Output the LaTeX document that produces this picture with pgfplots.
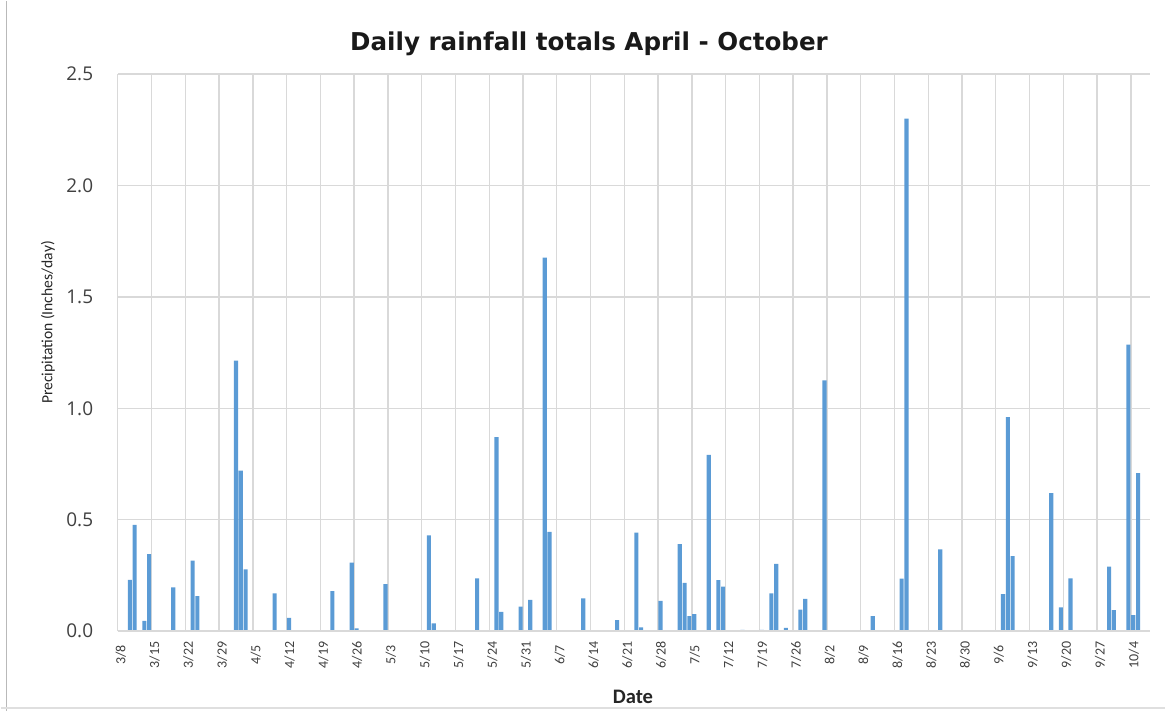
\documentclass[border=0pt]{standalone}
\usepackage{fontspec}
\setmainfont{Carlito}
\newfontfamily\opensans{Open Sans}
\newfontfamily\dejavu{DejaVu Sans}
\usepackage{pgfplots}
\usepackage{pgfplotstable}
\pgfplotsset{compat=1.18}
\definecolor{rainbar}{HTML}{5B9BD5}
\definecolor{gridgray}{HTML}{D9D9D9}
\definecolor{txtgray}{HTML}{404040}

% day after 3/8 (bar centred mid-day), inches/day
\pgfplotstableread{
day rain
2.5 0.230
3.5 0.477
5.5 0.046
6.5 0.346
11.5 0.196
12.5 0.005
15.5 0.316
16.5 0.157
24.5 1.214
25.5 0.720
26.5 0.277
27.5 0.005
32.5 0.170
35.5 0.060
44.5 0.180
48.5 0.307
49.5 0.012
51.5 0.005
52.5 0.005
55.5 0.211
64.5 0.430
65.5 0.035
74.5 0.237
78.5 0.871
79.5 0.087
83.5 0.110
85.5 0.140
88.5 1.676
89.5 0.445
90.5 0.005
96.5 0.147
103.5 0.050
107.5 0.442
108.5 0.017
112.5 0.136
113.5 0.005
116.5 0.391
117.5 0.217
118.5 0.067
119.5 0.076
122.5 0.791
124.5 0.229
125.5 0.200
128.5 0.004
129.5 0.006
132.5 0.005
133.5 0.006
135.5 0.170
136.5 0.302
138.5 0.015
141.5 0.097
142.5 0.145
146.5 1.125
156.5 0.067
162.5 0.236
163.5 2.300
170.5 0.367
183.5 0.166
184.5 0.960
185.5 0.337
193.5 0.619
195.5 0.107
197.5 0.237
199.5 0.004
200.5 0.004
205.5 0.289
206.5 0.094
209.5 1.286
210.5 0.072
211.5 0.709
212.5 0.005
}\raindata

\begin{document}
\begin{tikzpicture}
\path (0pt,0pt) rectangle (583pt,355.5pt);
\draw[gray!55, line width=0.8pt] (3pt,0pt) -- (3pt,355.5pt);
\draw[gray!25, line width=0.6pt] (0pt,1.5pt) -- (583pt,1.5pt);
\begin{axis}[
    at={(58.65pt,40pt)}, anchor=south west,
    scale only axis,
    width=516.7pt, height=278.85pt,
    ybar, bar width=0.85,
    xmin=0, xmax=214,
    ymin=0, ymax=2.5,
    enlargelimits=false,
    axis line style={draw=none},
    major tick length=0pt,
    xmajorgrids, ymajorgrids,
    grid style={gridgray, line width=0.7pt},
    xtick={0,7,...,210},
    xticklabels={},
    ytick={0,0.5,...,2.5},
    yticklabel style={xshift=-8.8pt, font=\opensans\fontsize{9.5}{11}\selectfont,
        text=txtgray,
        /pgf/number format/.cd, fixed, fixed zerofill, precision=1,
        assume math mode=true},
]
\addplot[fill=rainbar, draw=none] table[x=day, y=rain] {\raindata};
\draw[gridgray, line width=0.8pt] (axis cs:0,0) -- (axis cs:214,0);
\end{axis}
% weekly date labels (one every 7 days from 3/8), centred below the axis
\foreach \i/\m/\dd in {0/3/8,1/3/15,2/3/22,3/3/29,4/4/5,5/4/12,6/4/19,7/4/26,
    8/5/3,9/5/10,10/5/17,11/5/24,12/5/31,13/6/7,14/6/14,15/6/21,16/6/28,
    17/7/5,18/7/12,19/7/19,20/7/26,21/8/2,22/8/9,23/8/16,24/8/23,25/8/30,
    26/9/6,27/9/13,28/9/20,29/9/27,30/10/4}{
  \node[rotate=90, font=\fontsize{7}{8}\selectfont, text=txtgray]
      at ({58.65pt+16.9014pt*\i+1.5pt},28pt) {\m/\dd};
}
\node[anchor=base, font=\dejavu\bfseries\fontsize{12.3}{14}\selectfont, text=black!90]
    at (294.5pt,330.85pt) {Daily rainfall totals April - October};
\node[rotate=90, font=\fontsize{7.8}{9}\selectfont, text=black!85]
    at (23.75pt,194.5pt) {Precipitation (Inches/day)};
\node[anchor=base, font=\bfseries\fontsize{10.3}{12}\selectfont, text=black!85]
    at (316.5pt,3.85pt) {Date};
\end{tikzpicture}
\end{document}
